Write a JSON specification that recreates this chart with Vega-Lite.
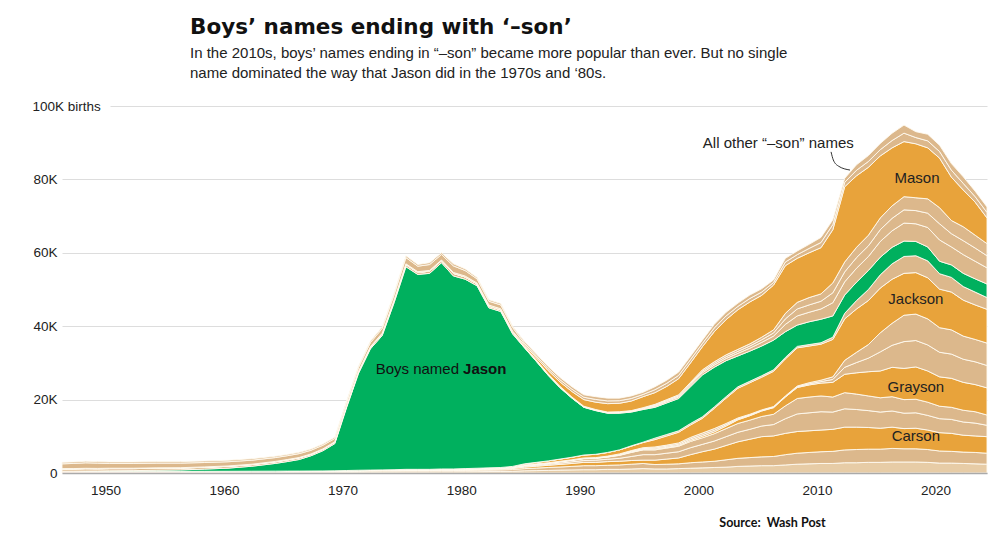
{
"$schema": "https://vega.github.io/schema/vega-lite/v6.json",
"width": 925, "height": 367,
"autosize": {"type": "none"},
"padding": {"left": 62, "top": 106, "right": 11, "bottom": 70},
"background": "white",
"config": {"view": {"stroke": null}, "font": "Liberation Sans"},
"title": {
  "text": "Boys’ names ending with ‘–son’",
  "subtitle": ["In the 2010s, boys’ names ending in “–son” became more popular than ever. But no single", "name dominated the way that Jason did in the 1970s and ‘80s."],
  "anchor": "start", "frame": "group", "dx": 128, "offset": 18,
  "font": "DejaVu Sans", "fontSize": 21.5, "fontWeight": "bold", "color": "#111111",
  "subtitleFont": "Liberation Sans", "subtitleFontSize": 15, "subtitleColor": "#222222",
  "subtitleLineHeight": 20, "subtitlePadding": 8
},
"layer": [
{
  "data": {"values": [
{"year":1946,"a1":0.15,"a2":0.15,"b_Carson":0.05,"c1":0.03,"c2":0.02,"d_Grayson":0,"e1":0.01,"e2":0.01,"f_Jackson":0.03,"g":0,"h_Jason":0.05,"i1":0.6,"i2":0,"i3":0,"j_Mason":0.1,"k1":1.3,"k2":0.4},
{"year":1947,"a1":0.15,"a2":0.15,"b_Carson":0.05,"c1":0.03,"c2":0.02,"d_Grayson":0,"e1":0.01,"e2":0.01,"f_Jackson":0.03,"g":0,"h_Jason":0.06,"i1":0.6,"i2":0,"i3":0,"j_Mason":0.1,"k1":1.4,"k2":0.4},
{"year":1948,"a1":0.15,"a2":0.15,"b_Carson":0.05,"c1":0.03,"c2":0.02,"d_Grayson":0,"e1":0.01,"e2":0.01,"f_Jackson":0.03,"g":0,"h_Jason":0.08,"i1":0.65,"i2":0,"i3":0,"j_Mason":0.1,"k1":1.5,"k2":0.42},
{"year":1949,"a1":0.15,"a2":0.15,"b_Carson":0.05,"c1":0.03,"c2":0.02,"d_Grayson":0,"e1":0.01,"e2":0.01,"f_Jackson":0.03,"g":0,"h_Jason":0.1,"i1":0.6,"i2":0,"i3":0,"j_Mason":0.1,"k1":1.45,"k2":0.4},
{"year":1950,"a1":0.15,"a2":0.15,"b_Carson":0.05,"c1":0.03,"c2":0.02,"d_Grayson":0,"e1":0.01,"e2":0.01,"f_Jackson":0.03,"g":0,"h_Jason":0.15,"i1":0.6,"i2":0,"i3":0,"j_Mason":0.1,"k1":1.3,"k2":0.4},
{"year":1952,"a1":0.15,"a2":0.15,"b_Carson":0.05,"c1":0.03,"c2":0.02,"d_Grayson":0,"e1":0.01,"e2":0.01,"f_Jackson":0.03,"g":0,"h_Jason":0.2,"i1":0.55,"i2":0,"i3":0,"j_Mason":0.1,"k1":1.3,"k2":0.4},
{"year":1954,"a1":0.15,"a2":0.15,"b_Carson":0.05,"c1":0.03,"c2":0.02,"d_Grayson":0,"e1":0.01,"e2":0.01,"f_Jackson":0.03,"g":0,"h_Jason":0.3,"i1":0.55,"i2":0,"i3":0,"j_Mason":0.1,"k1":1.3,"k2":0.4},
{"year":1956,"a1":0.15,"a2":0.15,"b_Carson":0.05,"c1":0.03,"c2":0.02,"d_Grayson":0,"e1":0.01,"e2":0.01,"f_Jackson":0.03,"g":0,"h_Jason":0.4,"i1":0.5,"i2":0,"i3":0,"j_Mason":0.1,"k1":1.25,"k2":0.4},
{"year":1958,"a1":0.15,"a2":0.16,"b_Carson":0.05,"c1":0.03,"c2":0.02,"d_Grayson":0,"e1":0.01,"e2":0.01,"f_Jackson":0.03,"g":0,"h_Jason":0.6,"i1":0.5,"i2":0,"i3":0,"j_Mason":0.1,"k1":1.2,"k2":0.4},
{"year":1960,"a1":0.16,"a2":0.16,"b_Carson":0.05,"c1":0.03,"c2":0.02,"d_Grayson":0,"e1":0.01,"e2":0.01,"f_Jackson":0.03,"g":0,"h_Jason":0.85,"i1":0.5,"i2":0,"i3":0,"j_Mason":0.1,"k1":1.15,"k2":0.4},
{"year":1962,"a1":0.17,"a2":0.17,"b_Carson":0.05,"c1":0.03,"c2":0.02,"d_Grayson":0,"e1":0.01,"e2":0.01,"f_Jackson":0.03,"g":0,"h_Jason":1.35,"i1":0.45,"i2":0,"i3":0,"j_Mason":0.1,"k1":1.1,"k2":0.4},
{"year":1964,"a1":0.18,"a2":0.18,"b_Carson":0.05,"c1":0.03,"c2":0.02,"d_Grayson":0,"e1":0.01,"e2":0.01,"f_Jackson":0.03,"g":0,"h_Jason":2.1,"i1":0.45,"i2":0,"i3":0,"j_Mason":0.1,"k1":1.05,"k2":0.35},
{"year":1965,"a1":0.18,"a2":0.19,"b_Carson":0.05,"c1":0.03,"c2":0.02,"d_Grayson":0,"e1":0.01,"e2":0.01,"f_Jackson":0.03,"g":0,"h_Jason":2.6,"i1":0.45,"i2":0,"i3":0,"j_Mason":0.1,"k1":1.05,"k2":0.35},
{"year":1966,"a1":0.19,"a2":0.19,"b_Carson":0.05,"c1":0.03,"c2":0.02,"d_Grayson":0,"e1":0.01,"e2":0.01,"f_Jackson":0.03,"g":0,"h_Jason":3.15,"i1":0.45,"i2":0,"i3":0,"j_Mason":0.1,"k1":1.05,"k2":0.35},
{"year":1967,"a1":0.2,"a2":0.2,"b_Carson":0.05,"c1":0.03,"c2":0.02,"d_Grayson":0,"e1":0.01,"e2":0.01,"f_Jackson":0.03,"g":0,"h_Jason":4.15,"i1":0.4,"i2":0,"i3":0,"j_Mason":0.1,"k1":1.0,"k2":0.35},
{"year":1968,"a1":0.21,"a2":0.21,"b_Carson":0.05,"c1":0.03,"c2":0.02,"d_Grayson":0,"e1":0.01,"e2":0.01,"f_Jackson":0.03,"g":0,"h_Jason":5.5,"i1":0.4,"i2":0,"i3":0,"j_Mason":0.1,"k1":1.0,"k2":0.35},
{"year":1969,"a1":0.22,"a2":0.23,"b_Carson":0.05,"c1":0.03,"c2":0.02,"d_Grayson":0,"e1":0.01,"e2":0.01,"f_Jackson":0.03,"g":0,"h_Jason":7.4,"i1":0.4,"i2":0,"i3":0,"j_Mason":0.1,"k1":0.9,"k2":0.35},
{"year":1970,"a1":0.25,"a2":0.25,"b_Carson":0.05,"c1":0.03,"c2":0.02,"d_Grayson":0,"e1":0.02,"e2":0.01,"f_Jackson":0.05,"g":0,"h_Jason":17.2,"i1":0.4,"i2":0,"i3":0,"j_Mason":0.1,"k1":0.95,"k2":0.35},
{"year":1971,"a1":0.27,"a2":0.28,"b_Carson":0.05,"c1":0.03,"c2":0.03,"d_Grayson":0,"e1":0.02,"e2":0.01,"f_Jackson":0.06,"g":0,"h_Jason":26.4,"i1":0.45,"i2":0,"i3":0,"j_Mason":0.1,"k1":1.05,"k2":0.35},
{"year":1972,"a1":0.29,"a2":0.29,"b_Carson":0.06,"c1":0.03,"c2":0.03,"d_Grayson":0,"e1":0.02,"e2":0.02,"f_Jackson":0.06,"g":0,"h_Jason":33.0,"i1":0.45,"i2":0,"i3":0,"j_Mason":0.12,"k1":1.15,"k2":0.4},
{"year":1973,"a1":0.3,"a2":0.3,"b_Carson":0.07,"c1":0.04,"c2":0.03,"d_Grayson":0,"e1":0.02,"e2":0.02,"f_Jackson":0.07,"g":0,"h_Jason":36.6,"i1":0.5,"i2":0,"i3":0,"j_Mason":0.13,"k1":1.3,"k2":0.4},
{"year":1974,"a1":0.31,"a2":0.31,"b_Carson":0.08,"c1":0.04,"c2":0.04,"d_Grayson":0,"e1":0.02,"e2":0.02,"f_Jackson":0.08,"g":0,"h_Jason":45.5,"i1":0.55,"i2":0,"i3":0,"j_Mason":0.15,"k1":1.45,"k2":0.45},
{"year":1975,"a1":0.32,"a2":0.33,"b_Carson":0.1,"c1":0.05,"c2":0.05,"d_Grayson":0.02,"e1":0.03,"e2":0.02,"f_Jackson":0.08,"g":0,"h_Jason":55.2,"i1":0.6,"i2":0,"i3":0,"j_Mason":0.2,"k1":1.7,"k2":0.5},
{"year":1976,"a1":0.32,"a2":0.33,"b_Carson":0.1,"c1":0.05,"c2":0.05,"d_Grayson":0.02,"e1":0.03,"e2":0.02,"f_Jackson":0.08,"g":0,"h_Jason":53.1,"i1":0.55,"i2":0,"i3":0,"j_Mason":0.2,"k1":1.5,"k2":0.45},
{"year":1977,"a1":0.32,"a2":0.33,"b_Carson":0.1,"c1":0.05,"c2":0.05,"d_Grayson":0.02,"e1":0.03,"e2":0.02,"f_Jackson":0.08,"g":0,"h_Jason":53.4,"i1":0.6,"i2":0,"i3":0,"j_Mason":0.2,"k1":1.6,"k2":0.5},
{"year":1978,"a1":0.35,"a2":0.35,"b_Carson":0.12,"c1":0.06,"c2":0.06,"d_Grayson":0.03,"e1":0.03,"e2":0.02,"f_Jackson":0.08,"g":0,"h_Jason":56.2,"i1":0.55,"i2":0,"i3":0,"j_Mason":0.2,"k1":1.5,"k2":0.45},
{"year":1979,"a1":0.35,"a2":0.35,"b_Carson":0.12,"c1":0.06,"c2":0.06,"d_Grayson":0.03,"e1":0.03,"e2":0.02,"f_Jackson":0.08,"g":0,"h_Jason":52.6,"i1":0.7,"i2":0,"i3":0,"j_Mason":0.25,"k1":1.8,"k2":0.55},
{"year":1980,"a1":0.36,"a2":0.36,"b_Carson":0.15,"c1":0.08,"c2":0.07,"d_Grayson":0.03,"e1":0.03,"e2":0.02,"f_Jackson":0.1,"g":0,"h_Jason":51.6,"i1":0.6,"i2":0,"i3":0,"j_Mason":0.25,"k1":1.5,"k2":0.45},
{"year":1981,"a1":0.37,"a2":0.38,"b_Carson":0.17,"c1":0.09,"c2":0.09,"d_Grayson":0.03,"e1":0.03,"e2":0.02,"f_Jackson":0.12,"g":0,"h_Jason":49.7,"i1":0.5,"i2":0,"i3":0,"j_Mason":0.25,"k1":1.15,"k2":0.4},
{"year":1982,"a1":0.4,"a2":0.4,"b_Carson":0.2,"c1":0.1,"c2":0.1,"d_Grayson":0.03,"e1":0.03,"e2":0.02,"f_Jackson":0.12,"g":0,"h_Jason":43.6,"i1":0.45,"i2":0,"i3":0,"j_Mason":0.3,"k1":1.05,"k2":0.4},
{"year":1983,"a1":0.42,"a2":0.43,"b_Carson":0.22,"c1":0.11,"c2":0.11,"d_Grayson":0.03,"e1":0.03,"e2":0.02,"f_Jackson":0.13,"g":0,"h_Jason":42.5,"i1":0.45,"i2":0,"i3":0,"j_Mason":0.3,"k1":1.05,"k2":0.4},
{"year":1984,"a1":0.47,"a2":0.48,"b_Carson":0.28,"c1":0.15,"c2":0.15,"d_Grayson":0.04,"e1":0.03,"e2":0.03,"f_Jackson":0.17,"g":0,"h_Jason":36.1,"i1":0.45,"i2":0,"i3":0,"j_Mason":0.3,"k1":1.0,"k2":0.35},
{"year":1985,"a1":0.6,"a2":0.6,"b_Carson":0.4,"c1":0.25,"c2":0.2,"d_Grayson":0.05,"e1":0.05,"e2":0.05,"f_Jackson":0.3,"g":0,"h_Jason":31.6,"i1":0.15,"i2":0.15,"i3":0.1,"j_Mason":0.4,"k1":0.45,"k2":0.45},
{"year":1986,"a1":0.65,"a2":0.7,"b_Carson":0.5,"c1":0.25,"c2":0.25,"d_Grayson":0.05,"e1":0.05,"e2":0.05,"f_Jackson":0.4,"g":0,"h_Jason":27.5,"i1":0.15,"i2":0.15,"i3":0.1,"j_Mason":0.6,"k1":0.5,"k2":0.5},
{"year":1987,"a1":0.7,"a2":0.8,"b_Carson":0.6,"c1":0.3,"c2":0.25,"d_Grayson":0.05,"e1":0.05,"e2":0.05,"f_Jackson":0.5,"g":0,"h_Jason":23.3,"i1":0.15,"i2":0.15,"i3":0.1,"j_Mason":0.9,"k1":0.55,"k2":0.55},
{"year":1988,"a1":0.8,"a2":0.85,"b_Carson":0.7,"c1":0.35,"c2":0.35,"d_Grayson":0.05,"e1":0.05,"e2":0.05,"f_Jackson":0.6,"g":0,"h_Jason":19.4,"i1":0.15,"i2":0.15,"i3":0.1,"j_Mason":1.2,"k1":0.6,"k2":0.6},
{"year":1989,"a1":0.85,"a2":0.95,"b_Carson":0.8,"c1":0.45,"c2":0.4,"d_Grayson":0.05,"e1":0.05,"e2":0.05,"f_Jackson":0.7,"g":0,"h_Jason":16.1,"i1":0.1,"i2":0.1,"i3":0.1,"j_Mason":1.5,"k1":0.65,"k2":0.65},
{"year":1990,"a1":0.9,"a2":1.1,"b_Carson":0.9,"c1":0.5,"c2":0.5,"d_Grayson":0.05,"e1":0.08,"e2":0.07,"f_Jackson":0.8,"g":0,"h_Jason":13.0,"i1":0.1,"i2":0.1,"i3":0.1,"j_Mason":1.8,"k1":0.65,"k2":0.65},
{"year":1991,"a1":0.9,"a2":1.1,"b_Carson":0.9,"c1":0.6,"c2":0.5,"d_Grayson":0.05,"e1":0.08,"e2":0.07,"f_Jackson":0.9,"g":0,"h_Jason":11.9,"i1":0.1,"i2":0.1,"i3":0.1,"j_Mason":2.0,"k1":0.75,"k2":0.75},
{"year":1992,"a1":1.0,"a2":1.1,"b_Carson":1.0,"c1":0.65,"c2":0.6,"d_Grayson":0.05,"e1":0.1,"e2":0.1,"f_Jackson":1.0,"g":0,"h_Jason":10.7,"i1":0.1,"i2":0.1,"i3":0.1,"j_Mason":2.3,"k1":0.75,"k2":0.75},
{"year":1993,"a1":1.0,"a2":1.2,"b_Carson":1.0,"c1":0.8,"c2":0.8,"d_Grayson":0.1,"e1":0.15,"e2":0.15,"f_Jackson":1.1,"g":0,"h_Jason":10.0,"i1":0.15,"i2":0.15,"i3":0.1,"j_Mason":2.3,"k1":0.7,"k2":0.7},
{"year":1994,"a1":1.1,"a2":1.3,"b_Carson":1.0,"c1":1.1,"c2":1.1,"d_Grayson":0.1,"e1":0.2,"e2":0.2,"f_Jackson":1.2,"g":0.1,"h_Jason":9.2,"i1":0.15,"i2":0.15,"i3":0.1,"j_Mason":2.6,"k1":0.7,"k2":0.7},
{"year":1995,"a1":1.2,"a2":1.4,"b_Carson":0.9,"c1":1.5,"c2":1.3,"d_Grayson":0.1,"e1":0.25,"e2":0.25,"f_Jackson":1.4,"g":0.1,"h_Jason":8.9,"i1":0.2,"i2":0.15,"i3":0.15,"j_Mason":3.0,"k1":0.6,"k2":0.6},
{"year":1996,"a1":1.1,"a2":1.2,"b_Carson":1.2,"c1":1.5,"c2":1.3,"d_Grayson":0.2,"e1":0.3,"e2":0.3,"f_Jackson":2.0,"g":0.4,"h_Jason":8.4,"i1":0.3,"i2":0.25,"i3":0.25,"j_Mason":3.2,"k1":0.8,"k2":0.8},
{"year":1997,"a1":1.1,"a2":1.3,"b_Carson":1.4,"c1":1.6,"c2":1.4,"d_Grayson":0.2,"e1":0.3,"e2":0.3,"f_Jackson":2.5,"g":0.4,"h_Jason":8.6,"i1":0.35,"i2":0.3,"i3":0.25,"j_Mason":3.6,"k1":0.85,"k2":0.85},
{"year":1998,"a1":1.2,"a2":1.3,"b_Carson":1.6,"c1":1.7,"c2":1.5,"d_Grayson":0.2,"e1":0.35,"e2":0.35,"f_Jackson":2.9,"g":0.4,"h_Jason":8.8,"i1":0.4,"i2":0.3,"i3":0.3,"j_Mason":4.4,"k1":0.9,"k2":0.9},
{"year":1999,"a1":1.3,"a2":1.5,"b_Carson":2.2,"c1":1.9,"c2":1.7,"d_Grayson":0.3,"e1":0.4,"e2":0.4,"f_Jackson":3.4,"g":0.4,"h_Jason":10.0,"i1":0.5,"i2":0.35,"i3":0.35,"j_Mason":5.3,"k1":0.9,"k2":0.9},
{"year":2000,"a1":1.4,"a2":1.6,"b_Carson":2.8,"c1":2.0,"c2":1.8,"d_Grayson":0.4,"e1":0.45,"e2":0.45,"f_Jackson":4.0,"g":0.4,"h_Jason":11.4,"i1":0.6,"i2":0.4,"i3":0.4,"j_Mason":6.3,"k1":0.9,"k2":0.9},
{"year":2001,"a1":1.5,"a2":1.7,"b_Carson":3.3,"c1":2.2,"c2":2.0,"d_Grayson":0.5,"e1":0.45,"e2":0.45,"f_Jackson":5.5,"g":0.4,"h_Jason":10.8,"i1":0.6,"i2":0.45,"i3":0.45,"j_Mason":8.2,"k1":1.0,"k2":1.0},
{"year":2002,"a1":1.6,"a2":2.0,"b_Carson":3.9,"c1":2.4,"c2":2.2,"d_Grayson":0.7,"e1":0.35,"e2":0.35,"f_Jackson":6.9,"g":0.4,"h_Jason":9.8,"i1":0.6,"i2":0.5,"i3":0.5,"j_Mason":9.6,"k1":1.0,"k2":1.0},
{"year":2003,"a1":1.8,"a2":2.2,"b_Carson":4.5,"c1":2.6,"c2":2.4,"d_Grayson":1.0,"e1":0.25,"e2":0.25,"f_Jackson":8.1,"g":0.4,"h_Jason":8.4,"i1":0.7,"i2":0.55,"i3":0.55,"j_Mason":10.8,"k1":0.9,"k2":0.9},
{"year":2004,"a1":1.9,"a2":2.3,"b_Carson":5.0,"c1":2.7,"c2":2.5,"d_Grayson":1.2,"e1":0.2,"e2":0.2,"f_Jackson":8.6,"g":0.4,"h_Jason":8.2,"i1":0.8,"i2":0.6,"i3":0.6,"j_Mason":11.4,"k1":0.95,"k2":0.95},
{"year":2005,"a1":2.0,"a2":2.4,"b_Carson":5.5,"c1":2.9,"c2":2.6,"d_Grayson":1.5,"e1":0.15,"e2":0.15,"f_Jackson":8.9,"g":0.4,"h_Jason":8.1,"i1":1.0,"i2":0.7,"i3":0.7,"j_Mason":11.4,"k1":0.9,"k2":0.9},
{"year":2006,"a1":2.0,"a2":2.5,"b_Carson":5.6,"c1":3.1,"c2":2.8,"d_Grayson":1.8,"e1":0.15,"e2":0.15,"f_Jackson":9.6,"g":0.4,"h_Jason":8.1,"i1":1.1,"i2":0.85,"i3":0.85,"j_Mason":12.2,"k1":0.7,"k2":0.7},
{"year":2007,"a1":2.2,"a2":2.8,"b_Carson":5.8,"c1":4.0,"c2":3.5,"d_Grayson":2.4,"e1":0.15,"e2":0.15,"f_Jackson":10.1,"g":0.4,"h_Jason":7.0,"i1":2.0,"i2":1.5,"i3":1.5,"j_Mason":13.0,"k1":1.0,"k2":1.0},
{"year":2008,"a1":2.4,"a2":3.0,"b_Carson":5.9,"c1":4.8,"c2":4.2,"d_Grayson":3.0,"e1":0.2,"e2":0.2,"f_Jackson":10.4,"g":0.4,"h_Jason":5.8,"i1":2.5,"i2":1.9,"i3":1.8,"j_Mason":12.0,"k1":1.0,"k2":1.0},
{"year":2009,"a1":2.5,"a2":3.1,"b_Carson":5.9,"c1":4.9,"c2":4.3,"d_Grayson":3.3,"e1":0.3,"e2":0.3,"f_Jackson":10.0,"g":0.4,"h_Jason":6.2,"i1":2.6,"i2":2.0,"i3":2.0,"j_Mason":12.2,"k1":1.2,"k2":1.1},
{"year":2010,"a1":2.6,"a2":3.2,"b_Carson":5.9,"c1":5.0,"c2":4.3,"d_Grayson":3.5,"e1":0.4,"e2":0.4,"f_Jackson":9.8,"g":0.4,"h_Jason":6.4,"i1":2.8,"i2":2.1,"i3":2.0,"j_Mason":12.6,"k1":1.4,"k2":1.4},
{"year":2011,"a1":2.6,"a2":3.3,"b_Carson":6.0,"c1":4.7,"c2":4.1,"d_Grayson":4.0,"e1":0.8,"e2":0.7,"f_Jackson":10.2,"g":0.6,"h_Jason":5.8,"i1":3.6,"i2":2.7,"i3":2.7,"j_Mason":14.5,"k1":1.4,"k2":1.3},
{"year":2012,"a1":2.8,"a2":3.5,"b_Carson":6.2,"c1":5.0,"c2":4.4,"d_Grayson":5.0,"e1":1.9,"e2":1.9,"f_Jackson":11.3,"g":1.5,"h_Jason":5.0,"i1":3.6,"i2":2.7,"i3":2.7,"j_Mason":20.5,"k1":1.2,"k2":1.1},
{"year":2013,"a1":2.8,"a2":3.6,"b_Carson":6.1,"c1":4.8,"c2":4.2,"d_Grayson":5.8,"e1":2.8,"e2":2.8,"f_Jackson":11.8,"g":2.3,"h_Jason":5.0,"i1":3.8,"i2":2.9,"i3":2.8,"j_Mason":19.5,"k1":1.5,"k2":1.5},
{"year":2014,"a1":2.9,"a2":3.6,"b_Carson":5.9,"c1":4.6,"c2":4.0,"d_Grayson":6.6,"e1":3.7,"e2":3.7,"f_Jackson":12.0,"g":3.0,"h_Jason":5.2,"i1":3.8,"i2":2.9,"i3":2.9,"j_Mason":18.5,"k1":1.6,"k2":1.6},
{"year":2015,"a1":2.9,"a2":3.6,"b_Carson":5.7,"c1":4.4,"c2":3.9,"d_Grayson":7.3,"e1":5.2,"e2":5.2,"f_Jackson":12.2,"g":3.6,"h_Jason":4.8,"i1":4.3,"i2":3.2,"i3":3.2,"j_Mason":16.9,"k1":1.7,"k2":1.7},
{"year":2016,"a1":3.0,"a2":3.7,"b_Carson":5.8,"c1":4.4,"c2":3.9,"d_Grayson":8.0,"e1":6.0,"e2":6.0,"f_Jackson":12.0,"g":4.2,"h_Jason":4.5,"i1":4.5,"i2":3.4,"i3":3.4,"j_Mason":15.8,"k1":2.0,"k2":2.0},
{"year":2017,"a1":3.0,"a2":3.6,"b_Carson":5.5,"c1":4.2,"c2":3.7,"d_Grayson":8.5,"e1":7.3,"e2":7.2,"f_Jackson":11.4,"g":4.6,"h_Jason":4.2,"i1":4.9,"i2":3.6,"i3":3.6,"j_Mason":15.0,"k1":2.3,"k2":2.2},
{"year":2018,"a1":3.0,"a2":3.6,"b_Carson":5.6,"c1":4.2,"c2":3.7,"d_Grayson":8.8,"e1":7.2,"e2":7.2,"f_Jackson":11.3,"g":4.6,"h_Jason":3.9,"i1":4.8,"i2":3.6,"i3":3.5,"j_Mason":14.7,"k1":1.7,"k2":1.6},
{"year":2019,"a1":2.9,"a2":3.5,"b_Carson":5.3,"c1":4.0,"c2":3.6,"d_Grayson":8.5,"e1":7.1,"e2":7.1,"f_Jackson":11.2,"g":4.6,"h_Jason":3.8,"i1":5.3,"i2":3.9,"i3":3.9,"j_Mason":13.9,"k1":1.9,"k2":1.8},
{"year":2020,"a1":2.7,"a2":3.3,"b_Carson":5.0,"c1":3.8,"c2":3.4,"d_Grayson":8.0,"e1":6.7,"e2":6.7,"f_Jackson":10.5,"g":4.2,"h_Jason":3.4,"i1":5.8,"i2":4.4,"i3":4.4,"j_Mason":13.5,"k1":1.8,"k2":1.7},
{"year":2021,"a1":2.7,"a2":3.2,"b_Carson":4.9,"c1":3.8,"c2":3.3,"d_Grayson":7.9,"e1":6.6,"e2":6.6,"f_Jackson":10.3,"g":4.0,"h_Jason":3.4,"i1":4.9,"i2":3.6,"i3":3.6,"j_Mason":11.8,"k1":1.9,"k2":1.8},
{"year":2022,"a1":2.6,"a2":3.1,"b_Carson":4.6,"c1":3.6,"c2":3.2,"d_Grayson":7.6,"e1":6.3,"e2":6.3,"f_Jackson":9.8,"g":3.7,"h_Jason":3.6,"i1":5.1,"i2":3.8,"i3":3.8,"j_Mason":10.0,"k1":1.8,"k2":1.8},
{"year":2023,"a1":2.5,"a2":3.1,"b_Carson":4.5,"c1":3.5,"c2":3.1,"d_Grayson":7.4,"e1":6.2,"e2":6.1,"f_Jackson":9.4,"g":3.5,"h_Jason":3.6,"i1":4.8,"i2":3.6,"i3":3.5,"j_Mason":9.0,"k1":1.5,"k2":1.5},
{"year":2024,"a1":2.4,"a2":3.0,"b_Carson":4.5,"c1":3.1,"c2":2.8,"d_Grayson":7.4,"e1":6.1,"e2":6.1,"f_Jackson":9.2,"g":3.2,"h_Jason":3.7,"i1":4.4,"i2":3.3,"i3":3.3,"j_Mason":7.0,"k1":1.5,"k2":1.5}
  ]},
  "transform": [{"fold": ["a1","a2","b_Carson","c1","c2","d_Grayson","e1","e2","f_Jackson","g","h_Jason","i1","i2","i3","j_Mason","k1","k2"], "as": ["series", "births"]}],
  "mark": {"type": "area", "stroke": "#fffaf0", "strokeWidth": 0.9, "interpolate": "linear"},
  "encoding": {
    "x": {"field": "year", "type": "quantitative",
      "scale": {"domain": [1946, 2024], "nice": false, "zero": false},
      "axis": {"values": [1950,1960,1970,1980,1990,2000,2010,2020], "format": "d", "grid": false, "ticks": false,
        "labelPadding": 10, "labelFontSize": 13.5, "labelColor": "#222222", "labelFont": "Liberation Sans", "labelOffset": -4,
        "domainColor": "#aaaaaa", "domainWidth": 1.5, "zindex": 1,
        "title": "Source:\u00a0 Wash Post", "titleX": 710, "titleY": 53, "titleAlign": "center", "titleBaseline": "alphabetic",
        "titleFont": "Lato", "titleFontSize": 12.5, "titleFontWeight": "bold", "titleColor": "#111111"}},
    "y": {"field": "births", "type": "quantitative", "stack": "zero",
      "scale": {"domain": [0, 100], "nice": false},
      "axis": {"values": [0,20,40,60,80,100], "title": null, "domain": false, "ticks": false,
        "labelExpr": "datum.value == 100 ? '100K births' : (datum.value == 0 ? '0' : datum.value + 'K')",
        "labelAlign": {"condition": {"test": "datum.value == 100", "value": "left"}, "value": "right"},
        "labelPadding": {"condition": {"test": "datum.value == 100", "value": 30}, "value": 5},
        "labelBaseline": "middle", "labelFontSize": 13.5, "labelColor": "#222222", "labelFont": "Liberation Sans",
        "gridColor": "#dddddd", "gridWidth": 1,
        "gridDash": {"condition": {"test": "datum.value == 100", "value": [0, 48, 2000, 0]}, "value": []}}},
    "color": {"field": "series", "type": "nominal", "legend": null,
      "scale": {"domain": ["a1","a2","b_Carson","c1","c2","d_Grayson","e1","e2","f_Jackson","g","h_Jason","i1","i2","i3","j_Mason","k1","k2"],
        "range": ["#e7cca6","#dcb88c","#e8a33b","#dcb88c","#dcb88c","#e8a33b","#dcb88c","#dcb88c","#e8a33b","#dcb88c","#00b05e","#dcb88c","#dcb88c","#dcb88c","#e8a33b","#dcb88c","#dcb88c"]}},
    "order": {"field": "series", "type": "ordinal", "sort": "ascending"}
  }
},
{
  "data": {"values": [{"year": 2010.85, "births": 87.5}, {"year": 2011.04, "births": 85.3}, {"year": 2011.46, "births": 83.65}, {"year": 2012.45, "births": 82.55}]},
  "mark": {"type": "line", "interpolate": "monotone", "color": "#333333", "strokeWidth": 1},
  "encoding": {"x": {"field": "year", "type": "quantitative"}, "y": {"field": "births", "type": "quantitative"}}
},
{
  "data": {"values": [{}]},
  "mark": {"type": "text", "text": "All other “–son” names", "align": "center", "baseline": "alphabetic", "fontSize": 15, "color": "#222222", "font": "Liberation Sans"},
  "encoding": {"x": {"datum": 2006.4, "type": "quantitative"}, "y": {"datum": 88.5, "type": "quantitative"}}
},
{
  "data": {"values": [{}]},
  "mark": {"type": "text", "text": "Mason", "align": "center", "baseline": "alphabetic", "fontSize": 15, "color": "#222222", "font": "Liberation Sans"},
  "encoding": {"x": {"datum": 2018.1, "type": "quantitative"}, "y": {"datum": 78.9, "type": "quantitative"}}
},
{
  "data": {"values": [{}]},
  "mark": {"type": "text", "text": "Jackson", "align": "center", "baseline": "alphabetic", "fontSize": 15, "color": "#222222", "font": "Liberation Sans"},
  "encoding": {"x": {"datum": 2018.0, "type": "quantitative"}, "y": {"datum": 46.0, "type": "quantitative"}}
},
{
  "data": {"values": [{}]},
  "mark": {"type": "text", "text": "Grayson", "align": "center", "baseline": "alphabetic", "fontSize": 15, "color": "#222222", "font": "Liberation Sans"},
  "encoding": {"x": {"datum": 2018.0, "type": "quantitative"}, "y": {"datum": 22.0, "type": "quantitative"}}
},
{
  "data": {"values": [{}]},
  "mark": {"type": "text", "text": "Carson", "align": "center", "baseline": "alphabetic", "fontSize": 15, "color": "#222222", "font": "Liberation Sans"},
  "encoding": {"x": {"datum": 2018.0, "type": "quantitative"}, "y": {"datum": 8.7, "type": "quantitative"}}
},
{
  "data": {"values": [{}]},
  "mark": {"type": "text", "text": "Boys named", "align": "right", "dx": -2, "baseline": "alphabetic", "fontSize": 15, "color": "#111111", "font": "Liberation Sans"},
  "encoding": {"x": {"datum": 1979.65, "type": "quantitative"}, "y": {"datum": 27.0, "type": "quantitative"}}
},
{
  "data": {"values": [{}]},
  "mark": {"type": "text", "text": "Jason", "align": "left", "dx": 2, "baseline": "alphabetic", "fontSize": 15, "fontWeight": "bold", "color": "#111111", "font": "Liberation Sans"},
  "encoding": {"x": {"datum": 1979.65, "type": "quantitative"}, "y": {"datum": 27.0, "type": "quantitative"}}
}
]
}
